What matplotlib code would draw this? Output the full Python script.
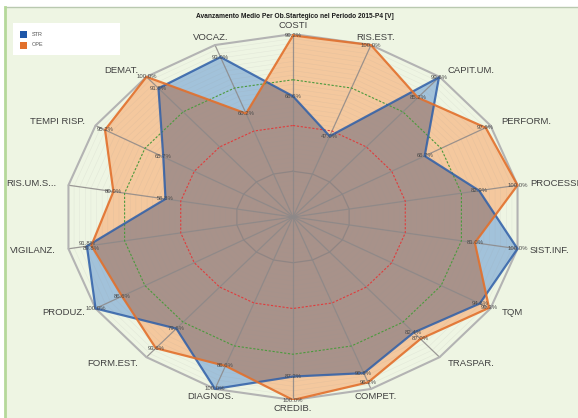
import numpy as np
import matplotlib
matplotlib.use("Agg")
import matplotlib.pyplot as plt
from matplotlib.patches import Rectangle, Polygon

plt.rcParams['font.family'] = ['Liberation Sans', 'DejaVu Sans']

title = "Avanzamento Medio Per Ob.Startegico nel Periodo 2015-P4 [V]"
categories = ["COSTI", "RIS.EST.", "CAPIT.UM.", "PERFORM.", "PROCESSI", "SIST.INF.",
              "TQM", "TRASPAR.", "COMPET.", "CREDIB.", "DIAGNOS.", "FORM.EST.",
              "PRODUZ.", "VIGILANZ.", "RIS.UM.S...", "TEMPI RISP.", "DEMAT.", "VOCAZ."]
str_values = [66.0, 47.0, 99.6, 66.7, 82.9, 100.0, 94.6, 82.4, 90.8, 87.2,
              100.0, 79.6, 100.0, 91.8, 56.8, 65.7, 91.8, 93.0]
ope_values = [99.2, 100.0, 85.2, 97.6, 100.0, 81.0, 99.3, 87.0, 96.2, 100.0,
              86.6, 93.6, 86.6, 89.8, 80.0, 95.2, 100.0, 60.2]
series_names = ["STR", "OPE"]

W, H = 578, 418
fig = plt.figure(figsize=(W / 100, H / 100), dpi=100)
fig.patch.set_facecolor('white')

# background panel
bg = fig.add_axes([0, 0, 1, 1])
bg.set_xlim(0, W)
bg.set_ylim(H, 0)
bg.axis('off')
bg.add_patch(Rectangle((5, 7), W, H, facecolor='#eef5e3', edgecolor='none'))
bg.plot([5, W], [7, 7], color='#b9c9b0', lw=1)
bg.plot([5, 5], [7, H], color='#b5d89a', lw=2)

# radar axes (elliptical)
cx, cy, rx, ry = 293, 217, 228, 183
ax = fig.add_axes([(cx - rx) / W, (H - cy - ry) / H, 2 * rx / W, 2 * ry / H])
ax.set_xlim(-1, 1)
ax.set_ylim(-1, 1)
ax.axis('off')

n = len(categories)
ang = np.arange(n) * 2 * np.pi / n
sx, sy = np.sin(ang), np.cos(ang)

def poly(vals):
    r = np.asarray(vals) / 100.0
    return np.column_stack([r * sx, r * sy])

str_xy = poly(str_values)
ope_xy = poly(ope_values)

# fills
ope_patch = Polygon(ope_xy, closed=True, facecolor='#f4c89e', edgecolor='none', zorder=1)
ax.add_patch(ope_patch)
str_patch = Polygon(str_xy, closed=True, facecolor='#a2c2da', edgecolor='none', zorder=1.1)
ax.add_patch(str_patch)
ov = Polygon(ope_xy, closed=True, facecolor='#a8928a', edgecolor='none', zorder=1.2)
ax.add_patch(ov)
ov.set_clip_path(str_patch)

# grid
def ring(level, **kw):
    xy = poly([level] * n)
    xy = np.vstack([xy, xy[:1]])
    ax.plot(xy[:, 0], xy[:, 1], **kw)

for lv in np.arange(2.5, 100, 2.5):
    ring(lv, color='#999999', lw=0.4, alpha=0.14, zorder=2)
ring(25, color='#8a8282', lw=0.9, alpha=0.8, zorder=2.1)
for i in range(n):
    ax.plot([0, sx[i]], [0, sy[i]], color='#8c8888', lw=0.9, alpha=0.85, zorder=2.2)
ring(50, color='#e03c3c', lw=0.8, ls=(0, (2, 1.5)), zorder=2.3)
ring(75, color='#4b9a3c', lw=0.8, ls=(0, (2, 1.5)), zorder=2.3)
ring(100, color='#b3b3b3', lw=1.5, zorder=2.4)

# series edges
sc = np.vstack([str_xy, str_xy[:1]])
oc = np.vstack([ope_xy, ope_xy[:1]])
ax.plot(sc[:, 0], sc[:, 1], color='#2f5fa8', lw=1.6, alpha=0.85, zorder=3)
ax.plot(oc[:, 0], oc[:, 1], color='#e2702c', lw=1.6, alpha=0.9, zorder=3.1)

# data labels
for k, (vals, xy) in enumerate(((str_values, str_xy), (ope_values, ope_xy))):
    for i, (v, (x, y)) in enumerate(zip(vals, xy)):
        dy = 0
        if abs(str_values[i] - ope_values[i]) < 3.5:
            dy = 2.2 if k == 0 else -2.2
        ax.annotate(f"{v:.1f}%", (x, y), xytext=(0, dy), textcoords='offset points',
                    fontsize=4.3, color='#4a4a4a', ha='center', va='center',
                    zorder=4, annotation_clip=False)

# category labels
for i, c in enumerate(categories):
    s = sx[i]
    ha = 'left' if s > 0.35 else ('right' if s < -0.35 else 'center')
    ax.annotate(c, (sx[i], sy[i]), xytext=(sx[i] * 9, sy[i] * 6),
                textcoords='offset points', ha=ha, va='center', fontsize=6.8,
                color='#404040', zorder=5, annotation_clip=False)

# title
bg.text(295, 16, title, fontsize=4.8, fontweight='bold', color='#1a1a1a',
        ha='center', va='center')

# legend
bg.add_patch(Rectangle((13, 23), 107, 32, facecolor='white', edgecolor='none'))
for k, (name, col) in enumerate(zip(series_names, ['#1f57a8', '#e2702c'])):
    yy = 34 + k * 11
    bg.add_patch(Rectangle((20, yy - 3.5), 7, 7, facecolor=col, edgecolor='none'))
    bg.text(32, yy, name, fontsize=4, color='#555555', va='center', ha='left')

fig.savefig('out.png', dpi=100, facecolor='white')
